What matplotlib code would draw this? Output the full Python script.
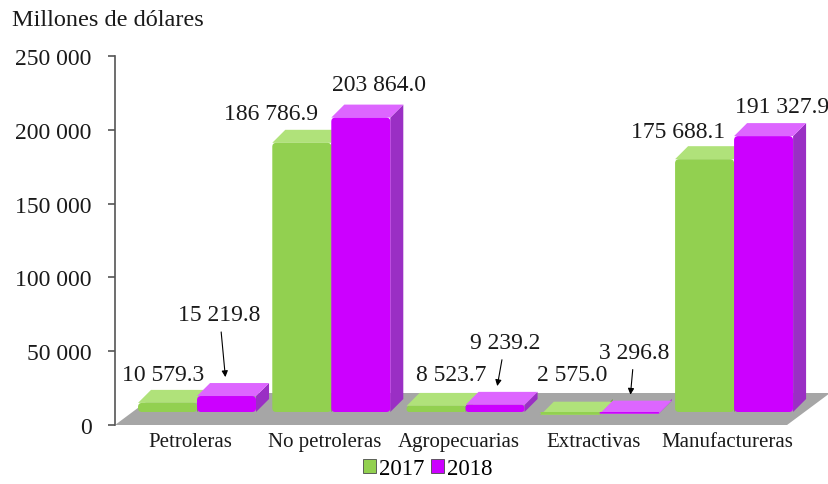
import matplotlib
matplotlib.use('Agg')
import matplotlib.pyplot as plt
from matplotlib.patches import Polygon, Patch, FancyBboxPatch

plt.rcParams['font.family'] = ['Liberation Serif', 'DejaVu Serif']

categorias = ['Petroleras', 'No petroleras', 'Agropecuarias', 'Extractivas', 'Manufactureras']
anios = ['2017', '2018']
v2017 = [10579.3, 186786.9, 8523.7, 2575.0, 175688.1]
v2018 = [15219.8, 203864.0, 9239.2, 3296.8, 191327.9]
etiquetas2017 = ['10 579.3', '186 786.9', '8 523.7', '2 575.0', '175 688.1']
etiquetas2018 = ['15 219.8', '203 864.0', '9 239.2', '3 296.8', '191 327.9']
yticks = [0, 50000, 100000, 150000, 200000, 250000]
ytick_labels = ['0', '50 000', '100 000', '150 000', '200 000', '250 000']

# colores: frente, costado, tapa
verde = ('#92d050', '#6fa83a', '#b0e27a')
morado = ('#cc00ff', '#9a2fc4', '#dd66ff')
piso = '#a6a6a6'

fig = plt.figure(figsize=(8.29, 4.85), dpi=100)
ax = fig.add_axes([115/829, 59/485, 714/829, 369/485])
ax.set_ylim(0, 250000)
ax.set_xlim(-0.611, 4.707)

# escala: 1 unidad x = 134.25 px, 1 px y = 250000/369
px_x = 1/134.25
px_y = 250000/369
w = 59*px_x
dx, dy = 13*px_x, 13*px_y
base = 13*px_y

# piso gris
fx0, fx1 = -0.611, (787-115)*px_x - 0.611
fdx, fdy = 43*px_x, 32*px_y
ax.add_patch(Polygon([(fx0, 0), (fx1, 0), (fx1+fdx, fdy), (fx0+fdx, fdy)],
                     closed=True, fc=piso, ec='none', zorder=1, clip_on=False))


def barra(x0, v, col):
    # el valor queda a media profundidad de la tapa
    top = base + v - dy/2
    ax.add_patch(Polygon([(x0+w, base), (x0+w+dx, base+dy), (x0+w+dx, top+dy), (x0+w, top)],
                         closed=True, fc=col[1], ec='none', zorder=2, clip_on=False,
                         joinstyle='round'))
    ax.add_patch(Polygon([(x0, top), (x0+w, top), (x0+w+dx, top+dy), (x0+dx, top+dy)],
                         closed=True, fc=col[2], ec='none', zorder=2, clip_on=False))
    h = top - base
    r = min(4.0, 0.45*h/px_y)*px_x
    ax.add_patch(FancyBboxPatch((x0, base), w, h,
                                boxstyle=f'round,pad=0,rounding_size={r}',
                                mutation_aspect=px_y/px_x,
                                fc=col[0], ec='none', zorder=3, clip_on=False))


for i in range(len(categorias)):
    barra(i - w, v2017[i], verde)
    barra(i, v2018[i], morado)

# etiquetas de valor (desplazamiento en pixeles)
off2017 = [(-4, 22), (-31, 23), (15, 25), (2, 34), (-27, 21)]
off2018 = [(-7, 75), (18, 27), (10, 56), (5, 55), (18, 23)]
flecha2018 = [True, False, True, True, False]
fs_val = 17
for i in range(len(categorias)):
    ax.annotate(etiquetas2017[i], xy=(i - w/2, base + v2017[i]), xytext=off2017[i],
                textcoords='offset pixels', ha='center', va='center', fontsize=fs_val,
                color='#1a1a1a', zorder=5)
    if flecha2018[i]:
        ax.annotate(etiquetas2018[i], xy=(i + w/2, base + v2018[i]), xytext=off2018[i],
                    textcoords='offset pixels', ha='center', va='center', fontsize=fs_val,
                    color='#1a1a1a', zorder=5,
                    arrowprops=dict(arrowstyle='-|>', color='black', lw=0.8,
                                    mutation_scale=9, shrinkA=3, shrinkB=9))
    else:
        ax.annotate(etiquetas2018[i], xy=(i + w/2, base + v2018[i]), xytext=off2018[i],
                    textcoords='offset pixels', ha='center', va='center', fontsize=fs_val,
                    color='#1a1a1a', zorder=5)

# ejes
for s in ['top', 'right', 'bottom']:
    ax.spines[s].set_visible(False)
ax.spines['left'].set_color('#555555')
ax.spines['left'].set_linewidth(1.2)
ax.set_yticks(yticks)
ax.set_yticklabels(ytick_labels, fontsize=17, color='#1a1a1a')
ax.tick_params(axis='y', length=5, width=1.2, color='#555555', pad=12)
ax.set_xticks([i - 0.05 for i in range(len(categorias))])
ax.set_xticklabels(categorias, fontsize=15, color='#1a1a1a')
ax.tick_params(axis='x', length=0, pad=5)

fig.text(12/829, 1 - 21/485, 'Millones de dólares', fontsize=17.5, va='center', ha='left',
         color='#1a1a1a')

handles = [Patch(fc=verde[0], ec='#4a4a4a', lw=0.6), Patch(fc=morado[0], ec='#4a4a4a', lw=0.6)]
fig.legend(handles, anios, loc='center', bbox_to_anchor=(428/829, 1 - 470/485), ncol=2,
           frameon=False, fontsize=16.5, handlelength=0.55, handleheight=0.55,
           handletextpad=0.15, columnspacing=0.3, borderpad=0)

fig.savefig('out.png', dpi=100)
